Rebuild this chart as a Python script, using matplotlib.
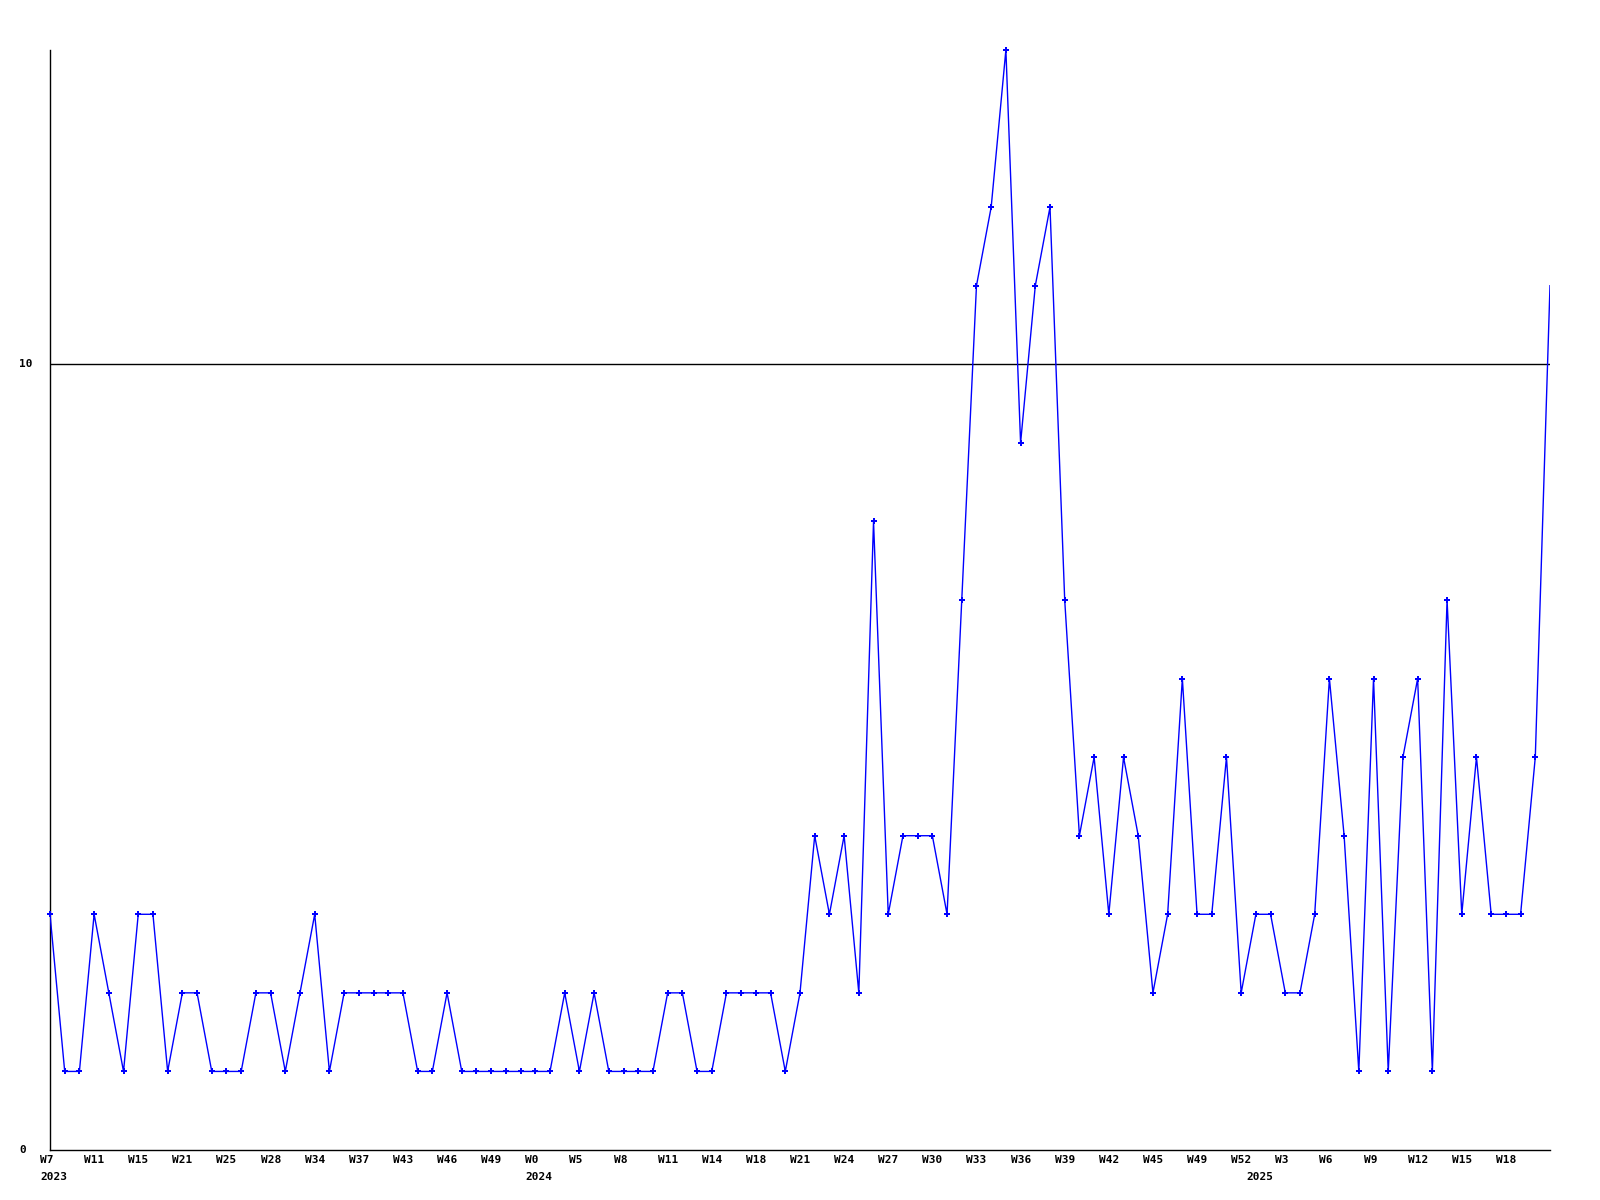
import matplotlib
matplotlib.use("Agg")
import matplotlib.pyplot as plt

# weekly values, W7 2023 onwards
values = [
    3, 1, 1, 3, 2, 1, 3, 3, 1, 2, 2, 1, 1, 1, 2, 2, 1, 2, 3, 1,
    2, 2, 2, 2, 2, 1, 1, 2, 1, 1, 1, 1, 1, 1, 1, 2, 1, 2, 1, 1,
    1, 1, 2, 2, 1, 1, 2, 2, 2, 2, 1, 2, 4, 3, 4, 2, 8, 3, 4, 4,
    4, 3, 7, 11, 12, 14, 9, 11, 12, 7, 4, 5, 3, 5, 4, 2, 3, 6, 3, 3,
    5, 2, 3, 3, 2, 2, 3, 6, 4, 1, 6, 1, 5, 6, 1, 7, 3, 5, 3, 3,
    3, 5, 11,
]
week_labels = [
    "W7", "W11", "W15", "W21", "W25", "W28", "W34", "W37", "W43", "W46",
    "W49", "W0", "W5", "W8", "W11", "W14", "W18", "W21", "W24", "W27",
    "W30", "W33", "W36", "W39", "W42", "W45", "W49", "W52", "W3", "W6",
    "W9", "W12", "W15", "W18",
]
label_step = 3
year_labels = ["2023", "2024", "2025"]
year_pos = [0, 33, 82]
y_ticks = [0, 10]

fig = plt.figure(figsize=(16, 12), dpi=100)
ax = fig.add_axes([50 / 1600, 50 / 1200, 1500 / 1600, 1100 / 1200])

x = list(range(len(values)))
ax.axhline(10, color="black", linewidth=1, zorder=1)
ax.plot(x, values, color="#0000ff", linewidth=1, zorder=3)
# last point sits on the plot edge and shows no marker
ax.plot(x[:-1], values[:-1], linestyle="none", color="#0000ff", marker="P",
        markersize=5, markeredgewidth=0, zorder=4, clip_on=False)

ax.set_xlim(0, len(values) - 1)
ax.set_ylim(0, 14)
for side in ("top", "right"):
    ax.spines[side].set_visible(False)
for side in ("left", "bottom"):
    ax.spines[side].set_color("black")
    ax.spines[side].set_linewidth(1)
ax.set_xticks([])
ax.set_yticks([])

font = dict(family="DejaVu Sans Mono", fontweight="bold", fontsize=8)
for i, lab in enumerate(week_labels):
    ax.annotate(lab, xy=(i * label_step, 0), xycoords=("data", "axes fraction"),
                xytext=(-10, -10), textcoords="offset pixels",
                ha="left", va="center", annotation_clip=False, **font)
for pos, lab in zip(year_pos, year_labels):
    ax.annotate(lab, xy=(pos, 0), xycoords=("data", "axes fraction"),
                xytext=(-10, -27), textcoords="offset pixels",
                ha="left", va="center", annotation_clip=False, **font)
for t in y_ticks:
    ax.annotate(str(t), xy=(0, t), xycoords=("axes fraction", "data"),
                xytext=(-31, 0), textcoords="offset pixels",
                ha="left", va="center", annotation_clip=False, **font)

fig.savefig("out.png", dpi=100)
